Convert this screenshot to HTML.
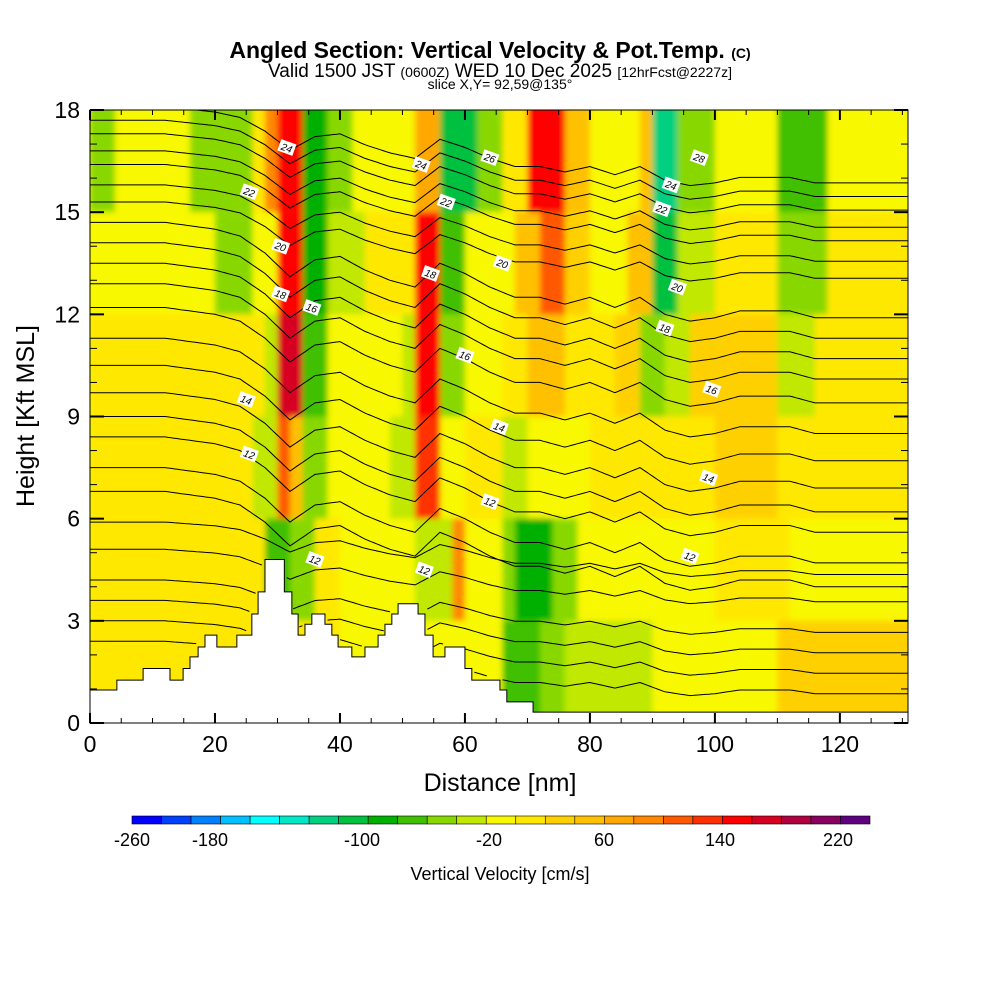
<!DOCTYPE html>
<html><head><meta charset="utf-8">
<style>
html,body{margin:0;padding:0;background:#fff;}
body{width:1000px;height:1000px;overflow:hidden;font-family:"Liberation Sans",sans-serif;}
</style></head>
<body>
<svg id="chart" width="1000" height="1000" xmlns="http://www.w3.org/2000/svg" font-family="Liberation Sans, sans-serif">
<defs>
<clipPath id="plotclip"><rect x="90" y="110" width="818" height="613"/></clipPath>
<filter id="soft" x="-5%" y="-5%" width="110%" height="110%"><feGaussianBlur stdDeviation="3"/></filter>
</defs>
<text x="490" y="58" font-size="23" font-weight="bold" text-anchor="middle">Angled Section: Vertical Velocity &amp; Pot.Temp. <tspan font-size="14">(C)</tspan></text>
<text x="500" y="77" font-size="19" text-anchor="middle">Valid 1500 JST <tspan font-size="14">(0600Z)</tspan> WED 10 Dec 2025 <tspan font-size="14">[12hrFcst@2227z]</tspan></text>
<text x="500" y="89" font-size="14" text-anchor="middle">slice X,Y= 92,59@135°</text>
<g id="field" clip-path="url(#plotclip)"></g>
<g id="contours" clip-path="url(#plotclip)"></g>
<g id="terrain"></g>
<g id="clabels"></g>
<rect x="90" y="110" width="818" height="613" fill="none" stroke="#000" stroke-width="1"/>
<g id="axes"></g>
<text x="500" y="791" font-size="25" text-anchor="middle">Distance [nm]</text>
<text transform="translate(34,416) rotate(-90)" font-size="25" text-anchor="middle">Height [Kft MSL]</text>
<g id="colorbar"></g>
<text x="500" y="880" font-size="18" text-anchor="middle">Vertical Velocity [cm/s]</text>
</svg>
<script>
// ---- data ----
const xTicks = [0,20,40,60,80,100,120];
const yTicks = [0,3,6,9,12,15,18];
const cbColors = ["#0000ff","#0040ff","#0080ff","#00c0ff","#00ffff","#00e8c8","#00d080","#00c040","#00b000","#40c000","#88d800","#c0e800","#f8f800","#ffe800","#ffd000","#ffc000","#ffa800","#ff8800","#ff5800","#ff3000","#ff0000","#d80020","#b00040","#880060","#600080"];
const cbLabels = ["-260","-180","-100","-20","60","140","220"];
const cbLabelPx = [132,210,362,489,604,720,838];
// vertical velocity segments per height band: [startNm, endNm, cm/s]
const bandBottoms = [15,12,9,6,3,0];
const band0 = [[0,4,-30],[4,16,10],[16,26,-30],[26,28,30],[28,30,100],[30,34,170],[34,38,-80],[38,42,-30],[42,52,10],[52,56,80],[56,62,-100],[62,66,-40],[66,70,20],[70,76,160],[76,80,60],[80,88,10],[88,90,60],[90,94,-120],[94,100,-40],[100,110,10],[110,118,-50],[118,124,0],[124,132,10]];
const band1 = [[0,20,10],[20,26,-30],[26,30,0],[30,34,170],[34,38,-70],[38,44,-20],[44,52,20],[52,56,160],[56,60,-60],[60,68,0],[68,72,60],[72,76,130],[76,80,40],[80,86,10],[86,90,60],[90,94,-90],[94,100,-20],[100,110,20],[110,118,-40],[118,132,20]];
const band2 = [[0,28,30],[28,30,-20],[30,34,180],[34,38,-60],[38,50,10],[50,52,-20],[52,56,160],[56,60,-40],[60,66,10],[66,70,30],[70,76,60],[76,84,20],[84,88,40],[88,92,-30],[92,96,-10],[96,110,50],[110,116,-20],[116,132,30]];
const band3 = [[0,20,30],[20,26,30],[26,30,-20],[30,32,130],[32,34,60],[34,38,-40],[38,48,10],[48,52,-20],[52,56,140],[56,60,0],[60,66,20],[66,70,-20],[70,80,0],[80,90,20],[90,100,30],[100,110,50],[110,116,20],[116,132,20]];
const band4 = [[0,20,30],[20,28,30],[28,32,-60],[32,36,-40],[36,40,20],[40,52,10],[52,58,-20],[58,60,100],[60,66,0],[66,68,-30],[68,74,-80],[74,78,-30],[78,90,0],[90,100,10],[100,112,30],[112,132,10]];
const band5 = [[0,20,30],[20,40,30],[40,60,10],[60,66,0],[66,72,-50],[72,76,-40],[76,90,-10],[90,110,10],[110,132,40]];
const bands = [band0,band1,band2,band3,band4,band5];
// terrain steps: start distance and height (kft)
const terrX = [0,4.3,8.5,12.8,14.9,16,17.3,18.4,20.3,23.5,25.9,26.9,28,31.1,32.3,33.3,34.4,35.5,37.6,38.7,39.7,41.9,44,46.1,47.2,48.3,49.3,52.5,53.6,54.9,56.8,60,61.1,65.6,66.7,70.9];
const terrH = [0.97,1.26,1.6,1.26,1.6,1.94,2.23,2.58,2.23,2.58,3.2,3.85,4.8,3.85,3.2,2.58,2.9,3.2,2.9,2.58,2.23,1.94,2.23,2.58,2.9,3.2,3.5,3.2,2.58,1.94,2.23,1.6,1.26,0.97,0.62,0.32];
// potential temperature contours: base height at left edge (kft)
const thetaBase = [2.4,3.0,3.6,4.2,5.1,5.9,6.8,7.5,8.4,9.0,9.7,10.5,11.3,12.2,12.9,13.5,14.1,14.7,15.3,15.8,16.4,16.8,17.3,17.7,18.1];
const pertX = [0,4,8,12,16,20,24,28,32,36,40,44,48,52,56,60,64,68,72,76,80,84,88,92,96,100,104,108,112,116,120,124,128,132];
const pertY = [0,0,0,0,-0.1,-0.2,-0.4,-0.9,-1.6,-1.1,-1.0,-1.4,-1.7,-1.9,-1.2,-1.5,-1.9,-2.2,-2.2,-2.4,-2.2,-2.5,-2.2,-2.7,-2.9,-2.8,-2.6,-2.6,-2.6,-2.8,-2.8,-2.8,-2.8,-2.8];
const labelText = ["24","22","20","18","16","14","12","24","22","18","16","14","12","12","26","20","28","24","22","20","18","16","14","12","12"];
const labelNm = [31.5,25.5,30.5,30.5,35.5,25,25.5,53,57,54.5,60,65.5,64,53.5,64,66,97.5,93,91.5,94,92,99.5,99,96,36];
const labelKft = [16.9,15.6,14.0,12.6,12.2,9.5,7.9,16.4,15.3,13.2,10.8,8.7,6.5,4.5,16.6,13.5,16.6,15.8,15.1,12.8,11.6,9.8,7.2,4.9,4.8];

// ---- helpers ----
const NS="http://www.w3.org/2000/svg";
const X0=90,X1=908,NMMAX=130.9,Y0=723,YT=110;
const xs = d => X0 + d*(X1-X0)/NMMAX;
const ys = h => Y0 - h*(Y0-YT)/18;
function mk(tag,attrs,parent){const e=document.createElementNS(NS,tag);for(const k in attrs)e.setAttribute(k,attrs[k]);parent.appendChild(e);return e;}
function colorFor(v){let i=Math.floor((v+240)/20);i=Math.max(0,Math.min(cbColors.length-1,i));return cbColors[i];}
function terrainAt(d){let h=0;for(let i=0;i<terrX.length;i++){if(d>=terrX[i])h=terrH[i];}return h;}
function pertAt(d){for(let i=0;i<pertX.length-1;i++){if(d<=pertX[i+1]){const t=(d-pertX[i])/(pertX[i+1]-pertX[i]);return pertY[i]+t*(pertY[i+1]-pertY[i]);}}return pertY[pertY.length-1];}

// ---- field ----
const field=document.getElementById('field');
mk('rect',{x:X0,y:YT,width:X1-X0,height:Y0-YT,fill:'#f8f800'},field);
const fg=mk('g',{filter:'url(#soft)'},field);
bands.forEach((band,bi)=>{
  const hb=bandBottoms[bi];
  band.forEach(seg=>{
    const r=mk('rect',{x:xs(seg[0]),y:ys(hb+3)-(bi===0?10:0),width:xs(seg[1])-xs(seg[0])+0.5,height:ys(hb)-ys(hb+3)+(bi===0?10:0)+(bi===5?10:0),fill:colorFor(seg[2])},fg);
    
    
  });
});

// ---- contours ----
const cg=document.getElementById('contours');
thetaBase.forEach((b,li)=>{
  const scale=b<6?0.55:(b>15?0.8:1);
  let d_='';let pen=false;
  for(let d=0;d<=NMMAX+0.5;d+=0.5){
    const h=b+pertAt(d)*scale;
    const t=terrainAt(d);
    if(h<t+0.1){pen=false;continue;}
    d_+=(pen?' L':' M')+xs(d).toFixed(1)+','+ys(h).toFixed(1);
    pen=true;
  }
  const p=mk('path',{d:d_,fill:'none',stroke:'#000','stroke-width':1},cg);
  
  
});

// ---- terrain ----
const tg=document.getElementById('terrain');
let tp=`M${xs(0)},${Y0}`;
for(let i=0;i<terrX.length;i++){
  const xa=xs(terrX[i]), xb=xs(i+1<terrX.length?terrX[i+1]:NMMAX);
  tp+=` L${xa},${ys(terrH[i])} L${xb},${ys(terrH[i])}`;
}
tp+=` L${xs(NMMAX)},${Y0} Z`;
const terr=mk('path',{d:tp,fill:'#fff',stroke:'#000','stroke-width':1},tg);



// ---- contour labels ----
const lg=document.getElementById('clabels');
labelText.forEach((t,i)=>{
  const x=xs(labelNm[i]),y=ys(labelKft[i]);
  const g=mk('g',{transform:`translate(${x},${y}) rotate(20)`},lg);
  
  
  mk('rect',{x:-8,y:-6,width:16,height:12,fill:'#fff'},g);
  const tx=mk('text',{x:0,y:4,'font-size':10,'text-anchor':'middle','font-style':'italic'},g);
  tx.textContent=t;
});

// ---- axes ----
const ag=document.getElementById('axes');
xTicks.forEach(v=>{
  const x=xs(v);
  const l=mk('line',{x1:x,y1:Y0,x2:x,y2:Y0-10,stroke:'#000','stroke-width':2},ag);
  
  
  mk('line',{x1:x,y1:YT,x2:x,y2:YT+10,stroke:'#000','stroke-width':2},ag);
  const t=mk('text',{x:x,y:752,'font-size':23,'text-anchor':'middle'},ag);
  
  
  t.textContent=v;
});
for(let v=5;v<NMMAX;v+=5){ if(v%20===0)continue; const x=xs(v);
  mk('line',{x1:x,y1:Y0,x2:x,y2:Y0-5,stroke:'#000','stroke-width':1},ag);
  mk('line',{x1:x,y1:YT,x2:x,y2:YT+5,stroke:'#000','stroke-width':1},ag);}
yTicks.forEach(v=>{
  const y=ys(v);
  const l=mk('line',{x1:X0,y1:y,x2:X0+14,y2:y,stroke:'#000','stroke-width':2},ag);
  
  
  mk('line',{x1:X1,y1:y,x2:X1-14,y2:y,stroke:'#000','stroke-width':2},ag);
  const t=mk('text',{x:80,y:y+8,'font-size':23,'text-anchor':'end'},ag);
  
  
  t.textContent=v;
});
for(let v=1;v<18;v++){ if(v%3===0)continue; const y=ys(v);
  mk('line',{x1:X0,y1:y,x2:X0+7,y2:y,stroke:'#000','stroke-width':1},ag);
  mk('line',{x1:X1,y1:y,x2:X1-7,y2:y,stroke:'#000','stroke-width':1},ag);}

// ---- colorbar ----
const cb=document.getElementById('colorbar');
const cbx0=132,cbx1=870,cbw=(cbx1-cbx0)/cbColors.length;
cbColors.forEach((c,i)=>{
  const r=mk('rect',{x:cbx0+i*cbw,y:816,width:cbw,height:8,fill:c,stroke:'#000','stroke-width':0.6},cb);
  
  
});
cbLabels.forEach((t,i)=>{
  const tx=mk('text',{x:cbLabelPx[i],y:846,'font-size':18,'text-anchor':'middle'},cb);
  
  
  tx.textContent=t;
});
</script>
</body></html>
